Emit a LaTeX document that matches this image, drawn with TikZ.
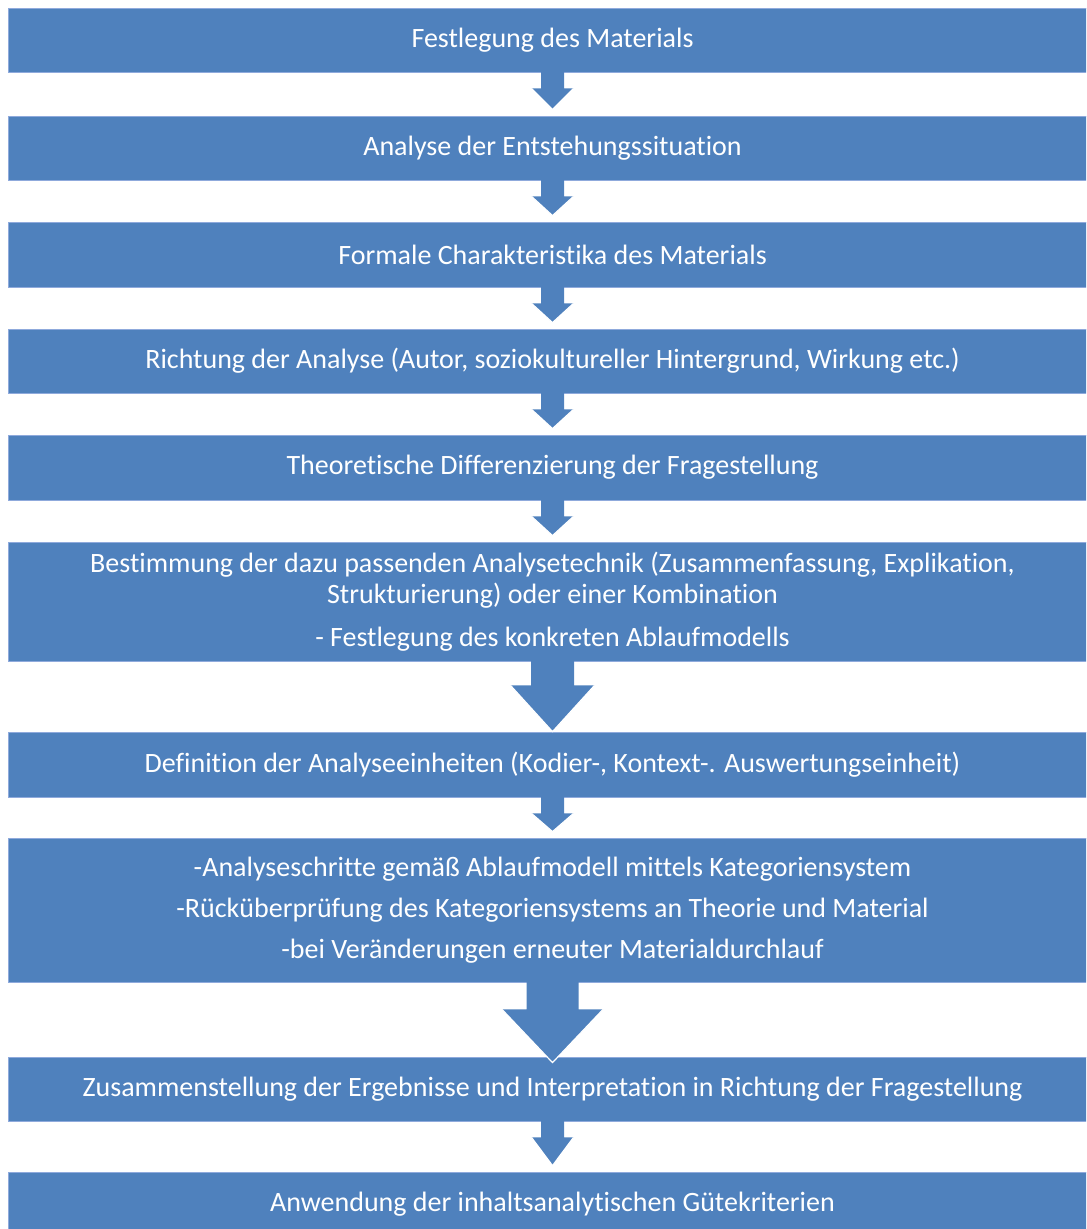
\documentclass[tikz,border=0pt]{standalone}
\usepackage{fontspec}
\setmainfont{Carlito}[Ligatures={NoCommon,NoRare,NoContextual}]
\usetikzlibrary{calc}

\definecolor{stepblue}{HTML}{4F81BD}
\definecolor{stepedge}{HTML}{8FAADC}

\tikzset{
  stepbox/.style={rectangle, fill=stepblue, draw=stepedge, line width=0.4pt,
    text=white, align=center, inner sep=0pt, minimum width=544.5pt,
    font=\fontsize{14}{15.5}\selectfont}
}

% block arrow: from, to, shaft half width, head half width, head start, tip shift
\newcommand{\flowarrow}[6]{%
  \fill[stepblue] ($(#1.south)+(-#3,-1)$) -- ($(#1.south)+(-#3,#5)$)
    -- ($(#1.south)+(-#4,#5)$) -- ($(#2.north)+(0,#6)$)
    -- ($(#1.south)+(#4,#5)$) -- ($(#1.south)+(#3,#5)$)
    -- ($(#1.south)+(#3,-1)$) -- cycle;
  \draw[white, line width=0.6pt] ($(#1.south)+(-#4,#5)$)
    -- ($(#2.north)+(0,#6)$) -- ($(#1.south)+(#4,#5)$);
}

\begin{document}
\begin{tikzpicture}[x=0.5pt, y=-0.5pt]
\useasboundingbox (0,0) rectangle (1086,1229);
\clip (0,0) rectangle (1086,1229);

\path (552.5,40) node[stepbox, minimum height=32pt] (s1) {Festlegung des Materials}
      (552.5,148) node[stepbox, minimum height=32pt] (s2) {Analyse der Entstehungssituation}
      (552.5,254.5) node[stepbox, minimum height=32.5pt] (s3) {Formale Charakteristika des Materials}
      (552.5,361) node[stepbox, minimum height=32pt] (s4) {Richtung der Analyse (Autor, soziokultureller Hintergrund, Wirkung etc.)}
      (552.5,467.5) node[stepbox, minimum height=32.5pt] (s5) {Theoretische Differenzierung der Fragestellung}
      (552.5,601.5) node[stepbox, minimum height=59.5pt] (s6) {Bestimmung der dazu passenden Analysetechnik (Zusammenfassung, Explikation,\\
        Strukturierung) oder einer Kombination\\[6pt]
        - Festlegung des konkreten Ablaufmodells}
      (552.5,764.5) node[stepbox, minimum height=32.5pt] (s7) {Definition der Analyseeinheiten (Kodier-, Kontext-. Auswertungseinheit)}
      (552.5,910) node[stepbox, minimum height=72pt] (s8) {-Analyseschritte gemäß Ablaufmodell mittels Kategoriensystem\\[5pt]
        -Rücküberprüfung des Kategoriensystems an Theorie und Material\\[5pt]
        -bei Veränderungen erneuter Materialdurchlauf}
      (552.5,1089) node[stepbox, minimum height=32pt] (s9) {Zusammenstellung der Ergebnisse und Interpretation in Richtung der Fragestellung}
      (552.5,1204) node[stepbox, minimum height=32pt] (s10) {Anwendung der inhaltsanalytischen Gütekriterien};

\foreach \a/\b in {s1/s2, s2/s3, s3/s4, s4/s5, s5/s6, s7/s8, s9/s10}
  \flowarrow{\a}{\b}{11.5}{21}{16}{-6};
\flowarrow{s6}{s7}{21.5}{42}{24}{0}
\flowarrow{s8}{s9}{26}{50.5}{27}{6}

\end{tikzpicture}
\end{document}
